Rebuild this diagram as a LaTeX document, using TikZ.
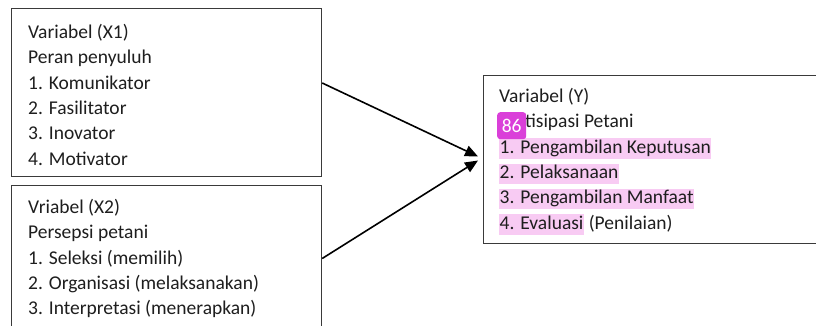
\documentclass[tikz,border=0pt]{standalone}
\usepackage{fontspec}
\setmainfont{Carlito}
\usetikzlibrary{arrows.meta}
\definecolor{boxline}{HTML}{3A3A3A}
\definecolor{hilite}{HTML}{F8CBF3}
\definecolor{badge}{HTML}{DA3FD9}
\definecolor{ink}{HTML}{1E1E1E}
\tikzset{
  frame/.style={draw=boxline, line width=1.2pt, rectangle, anchor=north west, inner sep=0pt},
  txt/.style={anchor=base west, inner sep=0pt, text=ink, font=\fontsize{19.5}{23}\selectfont},
  hl/.style={txt, fill=hilite, text height=15pt, text depth=5.5pt, inner xsep=0.5pt},
  link/.style={draw=black, line width=1.6pt, -{Triangle[length=13pt, width=11pt]}},
  tag/.style={fill=badge, text=white, rounded corners=3pt, inner sep=0pt,
    minimum width=29pt, minimum height=27pt, font=\fontsize{19.5}{23}\selectfont}
}
\begin{document}
\begin{tikzpicture}[x=1pt, y=-1pt]
\useasboundingbox (0,0) rectangle (816,326);
\clip (0,0) rectangle (816,326);
\fill[white] (0,0) rectangle (816,326);

% independent variable X1
\node[frame, minimum width=310pt, minimum height=168pt] (x1) at (11,8) {};
\node[txt] (x1a) at (28,38.3) {Variabel (X1)};
\node[txt] (x1b) at (28,63.7) {Peran penyuluh};
\node[txt] (x1c) at (28,89.1) {1. Komunikator};
\node[txt] (x1d) at (28,114.5) {2. Fasilitator};
\node[txt] (x1e) at (28,139.9) {3. Inovator};
\node[txt] (x1f) at (28,165.3) {4. Motivator};

% independent variable X2
\node[frame, minimum width=310pt, minimum height=170pt] (x2) at (11,184.5) {};
\node[txt] (x2a) at (28,213.3) {Vriabel (X2)};
\node[txt] (x2b) at (28,238.7) {Persepsi petani};
\node[txt] (x2c) at (28,264.1) {1. Seleksi (memilih)};
\node[txt] (x2d) at (28,289.5) {2. Organisasi (melaksanakan)};
\node[txt] (x2e) at (28,314.9) {3. Interpretasi (menerapkan)};

% dependent variable Y
\node[frame, minimum width=360pt, minimum height=168pt] (y) at (483,75) {};
\node[txt] (ya) at (499,102.3) {Variabel (Y)};
\node[txt] (yb) at (499,127.7) {Partisipasi Petani};
\node[hl] (yc) at (499,153.1) {1. Pengambilan Keputusan};
\node[hl] (yd) at (499,178.5) {2. Pelaksanaan};
\node[hl] (ye) at (499,203.9) {3. Pengambilan Manfaat};
\node[hl] (yf) at (499,229.3) {4. Evaluasi};
\node[txt, anchor=base west] (yg) at (yf.base east) {\ (Penilaian)};

% comment badge
\node[tag, anchor=north west] (note) at (497,112) {86};

% influence arrows
\coordinate (tipA) at (478,156.5);
\coordinate (tipB) at (478,160.5);
\draw[link] (x1.east |- 0,83) -- (tipA);
\draw[link] (x2.east |- 0,258.5) -- (tipB);
\end{tikzpicture}
\end{document}
